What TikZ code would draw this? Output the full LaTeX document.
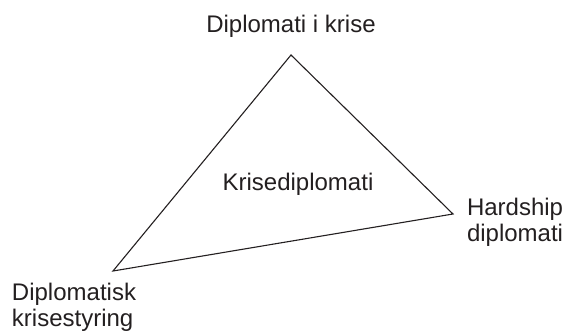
\documentclass[tikz,border=0pt]{standalone}
\usepackage{fontspec}
\setmainfont{Liberation Sans}
\definecolor{ink}{HTML}{231F20}
\begin{document}
\begin{tikzpicture}[x=1pt,y=-1pt,
  lbl/.style={inner sep=0pt,outer sep=0pt,text=ink,font=\fontsize{24}{26}\selectfont},
  edge/.style={draw=ink,line width=1.1pt,line join=miter}]
\useasboundingbox (0,0) rectangle (566,333);
\coordinate (top) at (291,55);
\coordinate (right) at (453,214);
\coordinate (left) at (113,271);
\draw[edge] (top) -- (right) -- (left) -- cycle;
\node[lbl,anchor=base] (t1) at (291,32) {Diplomati i krise};
\node[lbl,anchor=base] (c) at (298,190) {Krisediplomati};
\node[lbl,anchor=base west] (r1) at (467,215) {Hardship};
\node[lbl,anchor=base west] (r2) at (467,241) {diplomati};
\node[lbl,anchor=base west] (l1) at (12,300) {Diplomatisk};
\node[lbl,anchor=base west] (l2) at (12,326) {krisestyring};
\end{tikzpicture}
\end{document}
